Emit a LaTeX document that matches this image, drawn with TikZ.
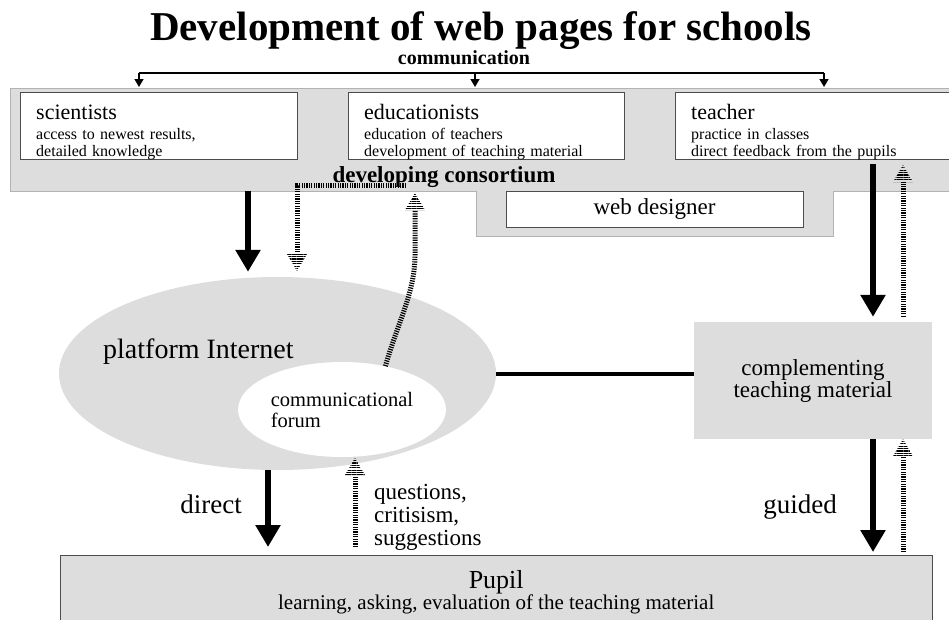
\documentclass[tikz,border=0pt]{standalone}
\usepackage{fontspec}
\setmainfont{Liberation Serif}
\usetikzlibrary{arrows.meta,shapes.geometric,patterns.meta}
\definecolor{panelgray}{gray}{0.865}
\definecolor{framegray}{gray}{0.3}

\begin{document}
\begin{tikzpicture}[x=1pt,y=-1pt]
\tikzset{
	member/.style={draw=framegray, fill=white, anchor=north west, minimum height=67pt, align=left,
		inner xsep=16pt, inner ysep=0pt, font=\fontsize{16}{17}\selectfont},
	bigarrow/.style={line width=6.5pt, -{Triangle[length=22pt,width=24pt]}},
	hatched/.style={line width=5pt, dash pattern=on 1.2pt off 1.2pt},
	hatchup/.pic={\fill[pattern={Lines[angle=0,distance=2.4pt,line width=1.2pt]}] (-10,17) -- (10,17) -- (0,0) -- cycle;},
	hatchdown/.pic={\fill[pattern={Lines[angle=0,distance=2.4pt,line width=1.2pt]}] (-10,-17) -- (10,-17) -- (0,0) -- cycle;},
	commarrow/.style={line width=1.5pt, -{Triangle[length=8pt,width=9pt]}},
	sidelabel/.style={font=\fontsize{27}{27}\selectfont, inner sep=0pt}
}
\useasboundingbox (0,0) rectangle (949,619);

\node[font=\fontsize{41}{41}\selectfont\bfseries, anchor=base] (title) at (481,40) {Development of web pages for schools};
\node[font=\fontsize{20}{20}\selectfont\bfseries, anchor=base, inner sep=0pt] (comm) at (464,64) {communication};

\fill[panelgray, draw=black!30] (10,88) -- (960,88) -- (960,191) -- (833,191) -- (833,236)
	-- (476,236) -- (476,191) -- (10,191) -- cycle;

\node[member, text width=245pt] (sci) at (20,92)
	{\rule{0pt}{27pt}{\fontsize{22}{22}\selectfont scientists}\\[3pt]access to newest results,\\detailed knowledge\rule[-3pt]{0pt}{3pt}};
\node[member, text width=244pt] (edu) at (348,92)
	{\rule{0pt}{27pt}{\fontsize{22}{22}\selectfont educationists}\\[3pt]education of teachers\\development of teaching material\rule[-3pt]{0pt}{3pt}};
\node[member, text width=253pt] (teach) at (675,92)
	{\rule{0pt}{27pt}{\fontsize{22}{22}\selectfont teacher}\\[3pt]practice in classes\\direct feedback from the pupils\rule[-3pt]{0pt}{3pt}};
\node[draw=framegray, fill=white, minimum width=297pt, minimum height=36pt, font=\fontsize{23}{26}\selectfont] (web) at (654.5,209) {web designer};
\node[font=\fontsize{23}{26}\selectfont\bfseries, anchor=base, inner sep=0pt] (consortium) at (444,182) {developing consortium};

\node[ellipse, fill=panelgray, minimum width=437pt, minimum height=193pt, inner sep=0pt] (platform) at (277.5,373.5) {};
\node[font=\fontsize{28}{30}\selectfont, anchor=base west, inner sep=0pt] (platformlbl) at (103,358) {platform Internet};
\node[ellipse, fill=white, minimum width=208pt, minimum height=95pt, inner sep=0pt, align=left,
	font=\fontsize{20.5}{21}\selectfont] (forum) at (342,409.5) {communicational\\forum};

\node[fill=panelgray, minimum width=238pt, minimum height=117pt, align=center,
	font=\fontsize{23}{22}\selectfont] (compl) at (813,380.5) {complementing\\teaching material};

\node[draw=framegray, fill=panelgray, anchor=north west, minimum width=872pt, minimum height=74pt, align=center,
	font=\fontsize{21}{21}\selectfont] (pupil) at (60,555)
	{{\fontsize{26}{26}\selectfont Pupil}\\learning, asking, evaluation of the teaching material};

\coordinate (cl) at (139,73);
\coordinate (cm) at (475,73);
\coordinate (cr) at (824,73);
\draw[line width=1.5pt] (cl) -- (cr);
\foreach \c in {cl,cm,cr}
	\draw[commarrow, shorten >=5pt] (\c) -- (\c |- sci.north);

\coordinate (sciout) at (248,191);
\draw[bigarrow, shorten >=5pt] (sciout) -- (sciout |- platform.north);

\coordinate (devout) at (406,185);
\coordinate (devdown) at (297,271);
\draw[hatched] (devout) -| ([yshift=17pt]devdown);
\pic at (devdown) {hatchdown};

\coordinate (eduin) at (415,193);
\draw[hatched] (forum.45) .. controls (398,322) and (415,292) .. (415,255) -- ([yshift=-17pt]eduin);
\pic at (eduin) {hatchup};

\draw[line width=4pt] (platform.east) -- (platform.east -| compl.west);

\coordinate (tdown) at (873,164);
\coordinate (tup) at (903,165);
\draw[bigarrow, shorten >=5pt] (tdown) -- (tdown |- compl.north);
\draw[hatched, shorten <=5pt] (tup |- compl.north) -- ([yshift=-17pt]tup);
\pic at (tup) {hatchup};

\coordinate (cbot) at (compl.south -| tup);
\draw[bigarrow, shorten >=3pt] (compl.south -| tdown) -- (pupil.north -| tdown);
\draw[hatched, shorten <=3pt] (pupil.north -| tup) -- ([yshift=-17pt]cbot);
\pic at (cbot) {hatchup};

\coordinate (dir) at (268,470);
\coordinate (fbot) at (355,458);
\draw[bigarrow, shorten >=8pt] (dir) -- (pupil.north -| dir);
\draw[hatched, shorten <=8pt] (pupil.north -| fbot) -- ([yshift=-19pt]fbot);
\pic at (fbot) {hatchup};

\node[sidelabel, anchor=base east] (directlbl) at (242,513) {direct};
\node[sidelabel, anchor=base east] (guidedlbl) at (837,513) {guided};
\node[font=\fontsize{23}{23}\selectfont, anchor=base west, align=left, inner sep=0pt] (questlbl) at (374,545)
	{questions,\\critisism,\\suggestions};
\end{tikzpicture}
\end{document}
